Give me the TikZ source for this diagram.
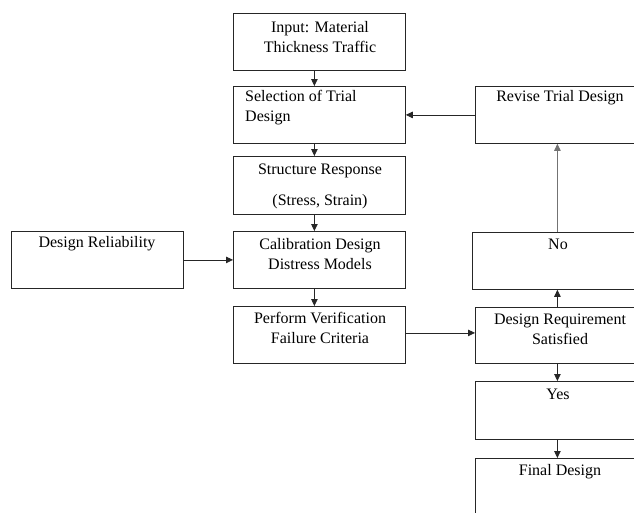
\documentclass[tikz,border=0pt]{standalone}
\usepackage{fontspec}
\setmainfont{Liberation Serif}
\usetikzlibrary{arrows.meta}
\begin{document}
\begin{tikzpicture}[x=1pt,y=-1pt,
  box/.style={draw=black!85, line width=0.8pt, minimum width=172pt, minimum height=57pt, inner sep=0pt, anchor=north west},
  rbox/.style={box, minimum width=172pt},
  txt/.style={font=\fontsize{16}{20}\selectfont, inner sep=0pt, align=center, text=black},
  arr/.style={draw=black!85, line width=0.8pt, -{Triangle[length=7pt,width=6.5pt]}}]
\useasboundingbox (0,0) rectangle (634,512);
\fill[white] (0,0) rectangle (634,512);
% center column
\node[box] (inp) at (233,13) {};
\node[box] (sel) at (233,86) {};
\node[box, minimum height=58pt] (str) at (233,156) {};
\node[box] (cal) at (233,231) {};
\node[box] (per) at (233,306) {};
% left
\node[box] (rel) at (11,231) {};
% right column
\node[rbox] (rev) at (475,86) {};
\node[rbox] (no) at (472,232) {};
\node[rbox, minimum height=56pt] (req) at (475,307) {};
\node[rbox, minimum height=58pt] (yes) at (475,381) {};
\node[rbox, minimum height=70pt] (fin) at (475,458) {};
% texts
\node[txt] (tinp) at (320,37) {Input: Material\\Thickness Traffic};
\node[txt, align=left, anchor=west] (tsel) at (245,108) {Selection of Trial\\Design};
\node[txt] (tstr1) at (320,171) {Structure Response};
\node[txt] (tstr2) at (320,202) {(Stress, Strain)};
\node[txt] (tcal) at (320,254) {Calibration Design\\Distress Models};
\node[txt] (tper) at (320,328) {Perform Verification\\Failure Criteria};
\node[txt] (trel) at (97,244) {Design Reliability};
\node[txt] (trev) at (560,98) {Revise Trial Design};
\node[txt] (tno) at (558,244) {No};
\node[txt] (treq) at (560,329) {Design Requirement\\Satisfied};
\node[txt] (tyes) at (558,394) {Yes};
\node[txt] (tfin) at (560,472) {Final Design};
% arrows center
\draw[arr] ([xshift=-5pt]inp.south) -- ([xshift=-5pt]sel.north);
\draw[arr] ([xshift=-5pt]sel.south) -- ([xshift=-5pt]str.north);
\draw[arr] ([xshift=-5pt]str.south) -- ([xshift=-5pt]cal.north);
\draw[arr] ([xshift=-5pt]cal.south) -- ([xshift=-5pt]per.north);
\draw[arr] (rel.east) -- (rel.east -| cal.west);
\draw[arr] ([yshift=2pt]per.east) -- ([yshift=2pt]per.east -| req.west);
\draw[arr] (rev.west) -- (rev.west -| sel.east);
% right arrows
\draw[arr] ([xshift=-4pt]req.north) -- ([xshift=-4pt]req.north |- no.south);
\draw[arr, draw=black!55] ([xshift=-1pt]no.north) -- ([xshift=-1pt]no.north |- rev.south);
\draw[arr] ([xshift=-4pt]req.south) -- ([xshift=-4pt]yes.north);
\draw[arr] ([xshift=-4pt]yes.south) -- ([xshift=-4pt]fin.north);
\end{tikzpicture}
\end{document}
